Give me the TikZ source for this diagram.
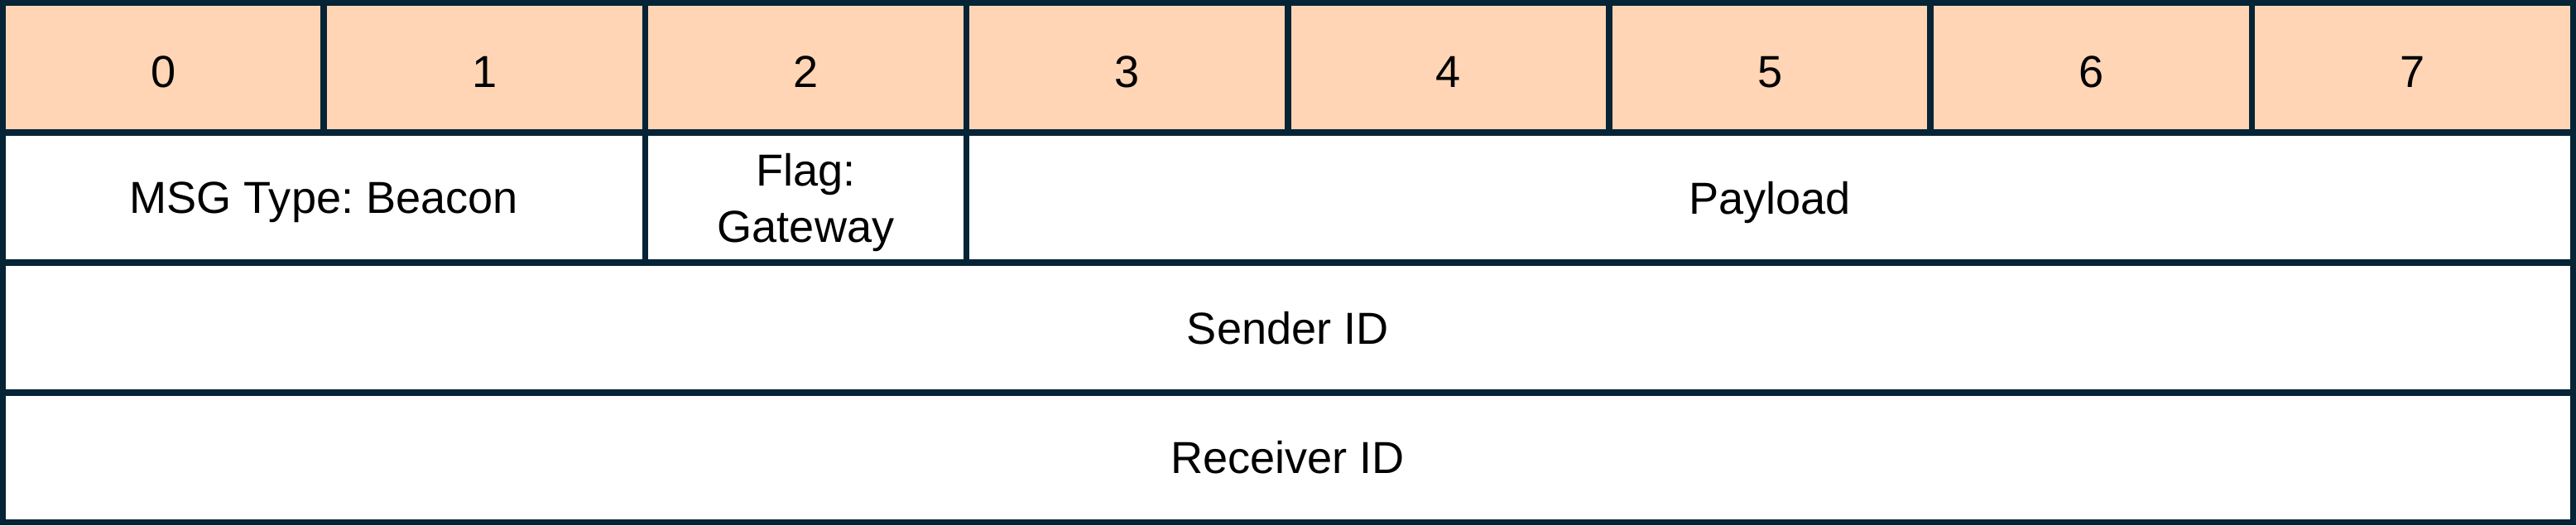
\documentclass[tikz,border=0pt]{standalone}
\usepackage{fontspec}
\setmainfont{Liberation Sans}
\definecolor{frame}{RGB}{5,36,54}
\definecolor{peach}{RGB}{255,213,181}
\frenchspacing

\begin{document}
\begin{tikzpicture}
\tikzstyle{every node}+=[inner sep=0pt, text depth=0pt, font=\fontsize{15.4}{19.3}\selectfont]
\tikzstyle{cell}=[draw=frame, line width=0.075cm, rectangle, minimum height=1.5675cm, align=center]
\tikzstyle{bit}=[cell, fill=peach, minimum width=3.882cm, text height=0.47cm]
\useasboundingbox (0,0) rectangle (31.12,6.34);
% header row
\node [bit] (bit0) at (1.971,5.521) {0};
\node [bit] (bit1) at (5.853,5.521) {1};
\node [bit] (bit2) at (9.735,5.521) {2};
\node [bit] (bit3) at (13.617,5.521) {3};
\node [bit] (bit4) at (17.499,5.521) {4};
\node [bit] (bit5) at (21.381,5.521) {5};
\node [bit] (bit6) at (25.263,5.521) {6};
\node [bit] (bit7) at (29.145,5.521) {7};
% fields
\node [cell, minimum width=7.764cm] (msgtype) at (3.912,3.954) {MSG Type: Beacon};
\node [cell, minimum width=3.882cm] (flag) at (9.735,3.954) {Flag:\\Gateway};
\node [cell, minimum width=19.409cm] (payload) at (21.3805,3.954) {Payload};
\node [cell, minimum width=31.055cm] (sender) at (15.5575,2.386) {Sender ID};
\node [cell, minimum width=31.055cm] (receiver) at (15.5575,0.819) {Receiver ID};
\end{tikzpicture}
\end{document}
